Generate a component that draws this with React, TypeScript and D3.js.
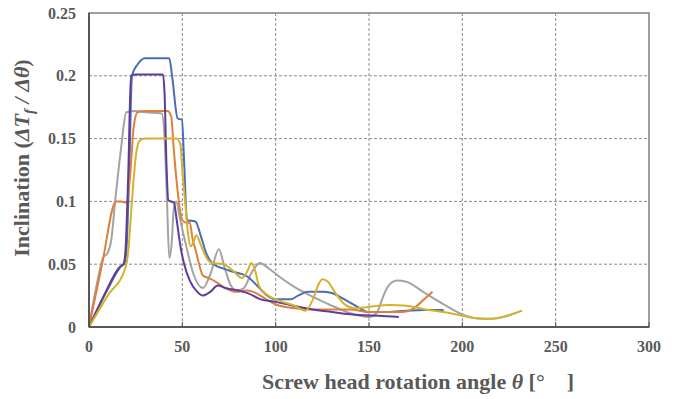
import React from "react";
import * as d3 from "d3";

type Pt = [number, number];

const grayData: Pt[] = [
  [0, 0], [5, 0.04], [7.5, 0.055], [10, 0.059], [12, 0.07], [14, 0.1], [17, 0.14], [20, 0.171],
  [25, 0.172], [30, 0.171], [39, 0.17], [40.5, 0.15], [41.8, 0.1], [43, 0.055], [44.2, 0.065],
  [45.5, 0.095], [46.8, 0.1], [48.5, 0.088], [52, 0.065], [56, 0.042], [61, 0.031], [65, 0.042],
  [69.6, 0.062], [72.5, 0.048], [76, 0.033], [79, 0.029], [83, 0.031], [87, 0.043], [91.6, 0.051],
  [96, 0.047], [102, 0.04], [110, 0.032], [120, 0.024], [130, 0.017], [140, 0.011], [150, 0.008],
  [154, 0.011], [157, 0.022], [160, 0.032], [165, 0.037], [170, 0.036], [180, 0.027], [190, 0.018],
  [200, 0.01], [207, 0.007], [215, 0.0065], [224, 0.009], [232, 0.013],
];

const blueData: Pt[] = [
  [0, 0], [10, 0.03], [17, 0.048], [19, 0.051], [20, 0.06], [21.5, 0.12], [23, 0.2], [26, 0.209],
  [30, 0.214], [36, 0.214], [43, 0.214], [44.5, 0.2], [47.5, 0.166], [49.8, 0.165], [51, 0.13],
  [52.5, 0.085], [57, 0.084], [60, 0.072], [63, 0.058], [66, 0.051], [75, 0.045], [85, 0.04],
  [90, 0.033], [95.5, 0.025], [100, 0.022], [108, 0.022], [112, 0.025], [117, 0.028], [125, 0.028],
  [130, 0.027], [138, 0.021], [145, 0.015], [149, 0.012], [160, 0.012], [170, 0.013], [180, 0.0135],
  [190, 0.0135],
];

const orangeData: Pt[] = [
  [0, 0], [7, 0.05], [14.5, 0.1], [17, 0.1], [20, 0.099], [22, 0.12], [24, 0.16], [26, 0.171],
  [30, 0.172], [42, 0.172], [44, 0.168], [45.5, 0.14], [47, 0.115], [50, 0.085], [52, 0.083],
  [54, 0.083], [55.5, 0.07], [57, 0.062], [59, 0.05], [61, 0.041], [64, 0.039], [68, 0.036],
  [72, 0.032], [79, 0.028], [84, 0.029], [88, 0.028], [95, 0.022], [100.7, 0.0175], [110, 0.015],
  [120, 0.014], [130, 0.014], [140, 0.014], [150, 0.012], [160, 0.012], [168, 0.012], [173, 0.014],
  [178, 0.02], [184, 0.028],
];

const purpleData: Pt[] = [
  [0, 0], [8, 0.025], [16.6, 0.048], [18.5, 0.05], [19.5, 0.06], [21, 0.12], [22.5, 0.2], [25, 0.201],
  [39.6, 0.201], [40.5, 0.185], [41.5, 0.13], [42.5, 0.101], [45.5, 0.099], [47, 0.085], [49, 0.064],
  [51, 0.05], [54, 0.037], [58, 0.028], [61, 0.025], [65, 0.028], [69, 0.033], [73, 0.031], [80, 0.029],
  [85, 0.027], [92, 0.022], [100, 0.02], [107.7, 0.0175], [120, 0.014], [130, 0.012], [145, 0.0095],
  [155, 0.009], [166, 0.008],
];

const yellowData: Pt[] = [
  [0, 0], [10, 0.025], [19.5, 0.047], [21, 0.06], [23, 0.1], [25, 0.135], [27, 0.148], [30, 0.15],
  [40, 0.15], [47, 0.15], [49, 0.145], [50, 0.125], [51.5, 0.1], [53, 0.075], [54.5, 0.064],
  [56, 0.068], [57.5, 0.073], [60, 0.065], [63, 0.055], [66, 0.051], [72, 0.05], [77, 0.045],
  [82, 0.039], [85, 0.045], [87, 0.051], [89, 0.045], [91, 0.033], [95, 0.026], [102, 0.021],
  [110, 0.017], [116, 0.013], [120, 0.022], [123, 0.034], [125, 0.038], [128, 0.036], [132, 0.027],
  [137, 0.018], [142, 0.015], [150, 0.016], [161, 0.0175], [170, 0.017], [180, 0.014], [190, 0.012],
  [200, 0.009], [208, 0.007], [215, 0.0065], [222, 0.008], [232, 0.013],
];

const seriesList: { name: string; color: string; data: Pt[] }[] = [
  { name: "gray", color: "#A3A3A3", data: grayData },
  { name: "blue", color: "#4A6DB6", data: blueData },
  { name: "orange", color: "#DE7F3E", data: orangeData },
  { name: "purple", color: "#5E3D99", data: purpleData },
  { name: "yellow", color: "#D2B32C", data: yellowData },
];

const xTicks = [0, 50, 100, 150, 200, 250, 300];
const yTicks = [0, 0.05, 0.1, 0.15, 0.2, 0.25];
const yTickLabels = ["0", "0.05", "0.1", "0.15", "0.2", "0.25"];

const W = 682;
const H = 399;
const left = 89;
const right = 649;
const top = 13;
const bottom = 327;

export default function App() {
  const x = d3.scaleLinear().domain([0, 300]).range([left, right]);
  const y = d3.scaleLinear().domain([0, 0.25]).range([bottom, top]);
  const line = d3
    .line<Pt>()
    .x((d) => x(d[0]))
    .y((d) => y(d[1]))
    .curve(d3.curveMonotoneX);
  const font = "'Liberation Serif', 'Times New Roman', serif";
  const labelColor = "#595959";

  return (
    <svg
      width={W}
      height={H}
      style={{ position: "absolute", left: 0, top: 0, background: "#fff" }}
      fontFamily={font}
    >
      <rect x={0} y={0} width={W} height={H} fill="#fff" />
      {/* grid */}
      {yTicks.slice(1, -1).map((t) => (
        <line key={"gy" + t} x1={left} x2={right} y1={y(t)} y2={y(t)} stroke="#8a8a8a" strokeWidth={1} strokeDasharray="3,2" />
      ))}
      {xTicks.slice(1, -1).map((t) => (
        <line key={"gx" + t} x1={x(t)} x2={x(t)} y1={top} y2={bottom} stroke="#8a8a8a" strokeWidth={1} strokeDasharray="3,2" />
      ))}
      {/* frame */}
      <rect x={left} y={top} width={right - left} height={bottom - top} fill="none" stroke="#808080" strokeWidth={1.5} />
      {/* x ticks */}
      {xTicks.map((t) => (
        <line key={"tx" + t} x1={x(t)} x2={x(t)} y1={bottom} y2={bottom - 5} stroke="#595959" strokeWidth={1} />
      ))}
      {/* series */}
      {seriesList.map((s) => (
        <path key={s.name} d={line(s.data) || ""} fill="none" stroke={s.color} strokeWidth={2} strokeLinejoin="round" />
      ))}
      {/* axes */}
      <line x1={left} x2={left} y1={top} y2={bottom} stroke="#404040" strokeWidth={1.5} />
      <line x1={left} x2={right} y1={bottom} y2={bottom} stroke="#404040" strokeWidth={1.5} />
      {/* tick labels */}
      {yTicks.map((t, i) => (
        <text key={"ly" + t} x={left - 13} y={y(t)} dy="0.35em" textAnchor="end" fontSize={16} fontWeight="bold" fill={labelColor}>
          {yTickLabels[i]}
        </text>
      ))}
      {xTicks.map((t) => (
        <text key={"lx" + t} x={x(t)} y={352} textAnchor="middle" fontSize={16} fontWeight="bold" fill={labelColor}>
          {t}
        </text>
      ))}
      {/* x title */}
      <text x={418} y={389} textAnchor="middle" fontSize={22} fontWeight="bold" fill={labelColor}>
        Screw head rotation angle <tspan fontStyle="italic">θ</tspan> [°{"\u2003"}]
      </text>
      {/* y title */}
      <text
        transform={`translate(29, 158) rotate(-90)`}
        textAnchor="middle"
        fontSize={22}
        fontWeight="bold"
        fill={labelColor}
      >
        Inclination (<tspan fontStyle="italic">ΔT</tspan>
        <tspan fontStyle="italic" fontSize={15} dy={5}>f</tspan>
        <tspan fontStyle="italic" dy={-5}> / Δθ</tspan>)
      </text>
    </svg>
  );
}
